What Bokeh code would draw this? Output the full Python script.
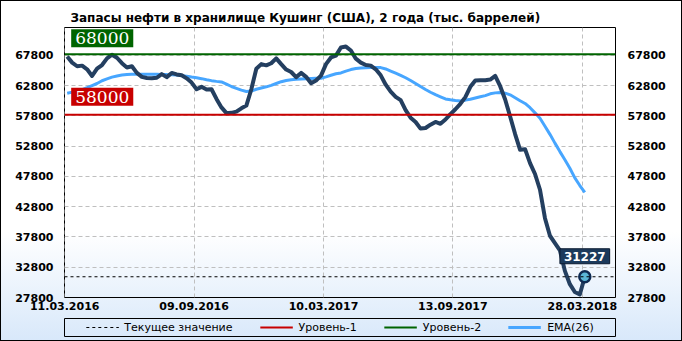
from bokeh.plotting import figure
from bokeh.layouts import column
from bokeh.models import (Range1d, FixedTicker, LinearAxis, Span, Label, Legend, LegendItem, Title)
from bokeh.embed import file_html
from bokeh.resources import INLINE

# ---------------- data ----------------
title_text = "Запасы нефти  в хранилище  Кушинг  (США), 2 года (тыс. баррелей)"

stocks = [67600, 66600, 66000, 66100, 65500, 64400, 65600, 66200, 67300, 67900,
          67400, 66500, 65800, 66000, 64900, 64250, 64050, 64000, 64100, 64700,
          64200, 64900, 64650, 64500, 64000, 63300, 62200, 62600, 62150, 62200,
          60600, 59200, 58250, 58300, 58500, 59050, 59500, 62200, 65600, 66350,
          66150, 66500, 67300, 66350, 65450, 65050, 64200, 64900, 64250, 63200,
          63650, 64450, 66350, 67450, 67750, 69100, 69250, 68600, 67250, 66600,
          66200, 66100, 65500, 64500, 62950, 61800, 60950, 60400, 58750, 57500,
          56800, 55700, 55800, 56350, 56800, 56500, 57200, 58100, 58900, 59800,
          60900, 62600, 63650, 63700, 63700, 63800, 64400, 62700, 60500, 57700,
          54800, 52200, 52300, 50000, 48200, 45600, 40900, 38000, 36800, 35600,
          32200, 30000, 28700, 28300, 31227]

ema26 = [61530, 61720, 61950, 62150, 62450, 62800, 63150, 63600, 63900, 64200,
         64400, 64550, 64650, 64680, 64680, 64680, 64680, 64680, 64670, 64650,
         64620, 64600, 64570, 64450, 64350, 64220, 64100, 63950, 63780, 63620,
         63500, 63400, 63050, 62650, 62350, 62050, 61830, 61900, 62200, 62400,
         62600, 62850, 63150, 63450, 63650, 63780, 63850, 63910, 63940, 63970,
         64000, 64020, 64250, 64520, 64750, 64900, 65200, 65450, 65620, 65700,
         65770, 65800, 65800, 65780, 65550, 65200, 64850, 64500, 64100, 63650,
         63150, 62640, 62150, 61700, 61300, 60950, 60600, 60450, 60350, 60270,
         60400, 60550, 60750, 60950, 61150, 61450, 61600, 61680, 61550, 61280,
         60800, 60300, 59850, 59150, 58300, 57400, 56100, 54750, 53300, 51900,
         50550, 49150, 47550, 46300, 45150]

date_labels = ["11.03.2016", "09.09.2016", "10.03.2017", "13.09.2017", "28.03.2018"]
date_label_index = [0, 26, 52, 78, 104]
y_ticks = [27800, 32800, 37800, 42800, 47800, 52800, 57800, 62800, 67800]
level_1 = 58000
level_2 = 68000
current_value = stocks[-1]
legend_labels = ["Текущее значение", "Уровень-1", "Уровень-2", "EMA(26)"]

# ---------------- styles ----------------
DARK = "#243F60"
EMA_C = "#47A6FF"
RED = "#C80000"
GREEN = "#006400"
FONT = "DejaVu Sans"
NAN = float("nan")

xs = list(range(len(stocks)))

# ---------------- main chart ----------------
p = figure(width=682, height=318, output_backend="svg", toolbar_location=None,
           x_range=Range1d(-0.54, 110.17), y_range=Range1d(27800, 72400),
           min_border_left=64, min_border_right=67, min_border_top=27, min_border_bottom=21,
           title=None)
p.border_fill_color = None
p.background_fill_color = None
p.outline_line_color = "black"
p.outline_line_width = 1

p.add_layout(Title(text=title_text, align="left", offset=6, standoff=5,
                   text_font=FONT, text_font_style="bold", text_font_size="12px",
                   text_color="black"), "above")

tick_pos = [i - 0.5 for i in date_label_index]
p.xaxis.ticker = FixedTicker(ticks=tick_pos)
p.xaxis.major_label_overrides = {t: lab for t, lab in zip(tick_pos, date_labels)}
p.yaxis.ticker = FixedTicker(ticks=y_ticks)
right_axis = LinearAxis(ticker=FixedTicker(ticks=y_ticks))
p.add_layout(right_axis, "right")
for ax in p.axis:
    ax.axis_line_color = None
    ax.major_tick_line_color = None
    ax.minor_tick_line_color = None
    ax.major_tick_out = 0
    ax.major_tick_in = 0
    ax.minor_tick_out = 0
    ax.minor_tick_in = 0
    ax.major_label_text_font = FONT
    ax.major_label_text_font_style = "bold"
    ax.major_label_text_font_size = "11px"
    ax.major_label_text_color = "black"
p.xaxis.major_label_standoff = 4
p.yaxis.major_label_standoff = 11
right_axis.major_label_standoff = 12

for g in (p.xgrid, p.ygrid):
    g.grid_line_color = "#BFBFBF"
    g.grid_line_dash = "4 3"
    g.grid_line_width = 1
p.xgrid.ticker = FixedTicker(ticks=tick_pos)
p.ygrid.ticker = FixedTicker(ticks=y_ticks)

p.add_layout(Span(location=current_value, dimension="width", line_color="black",
                  line_dash="3 3", line_width=1))
p.add_layout(Span(location=level_1, dimension="width", line_color=RED, line_width=2))
p.add_layout(Span(location=level_2, dimension="width", line_color=GREEN, line_width=2))

p.line(xs, ema26, line_color=EMA_C, line_width=3)
p.line(xs, stocks, line_color=DARK, line_width=4, line_join="round")
p.scatter([xs[-1]], [stocks[-1]], size=11, fill_color="#5AB6D6", line_color="#0D2A52", line_width=2.5)

p.add_layout(Label(x=0, y=level_2, x_offset=4, y_offset=7, text=str(level_2),
                   text_align="left", text_baseline="bottom",
                   text_font="DejaVu Serif", text_font_size="17px", text_color="white",
                   background_fill_color=GREEN, padding=dict(x=4, y=3)))
p.add_layout(Label(x=0, y=level_1, x_offset=4, y_offset=9, text=str(level_1),
                   text_align="left", text_baseline="bottom",
                   text_font="DejaVu Serif", text_font_size="17px", text_color="white",
                   background_fill_color=RED, padding=dict(x=4, y=3)))
p.add_layout(Label(x=xs[-1], y=current_value, y_offset=13, text=str(current_value),
                   text_align="center", text_baseline="bottom",
                   text_font=FONT, text_font_style="bold", text_font_size="12px", text_color="white",
                   background_fill_color="#1B3A5C", border_line_color="#0A1A30",
                   padding=dict(x=4, y=3)))

# ---------------- legend strip ----------------
q = figure(width=682, height=23, output_backend="svg", toolbar_location=None,
           x_range=Range1d(0, 1), y_range=Range1d(0, 1),
           min_border_left=64, min_border_right=65, min_border_top=0, min_border_bottom=5,
           title=None)
q.border_fill_color = None
q.background_fill_color = None
q.outline_line_color = "black"
q.outline_line_width = 1
q.axis.visible = False
q.grid.visible = False

# legend-only renderers (a single NaN point: nothing is drawn in the strip itself)
r_cur = q.line([NAN], [NAN], line_color="black", line_dash="3 3", line_width=1)
r_l1 = q.line([NAN], [NAN], line_color=RED, line_width=2)
r_l2 = q.line([NAN], [NAN], line_color=GREEN, line_width=2)
r_ema = q.line([NAN], [NAN], line_color=EMA_C, line_width=3)
legend = Legend(items=[LegendItem(label=lab, renderers=[r])
                       for lab, r in zip(legend_labels, [r_cur, r_l1, r_l2, r_ema])],
                location="center", orientation="horizontal",
                glyph_width=33, glyph_height=14, label_height=14, label_standoff=6,
                spacing=27, padding=1, margin=0,
                label_text_font=FONT, label_text_font_size="11px", label_text_color="black",
                border_line_alpha=0, background_fill_alpha=0)
q.add_layout(legend)

layout = column(p, q, spacing=0)
layout.styles = {
    "background": "linear-gradient(180deg, #ffffff 0%, #ffffff 68%, #d8e8fa 100%)",
    "outline": "1px solid #000000",
    "outline-offset": "-1px",
}

open("out.html", "w").write(file_html(layout, INLINE))
